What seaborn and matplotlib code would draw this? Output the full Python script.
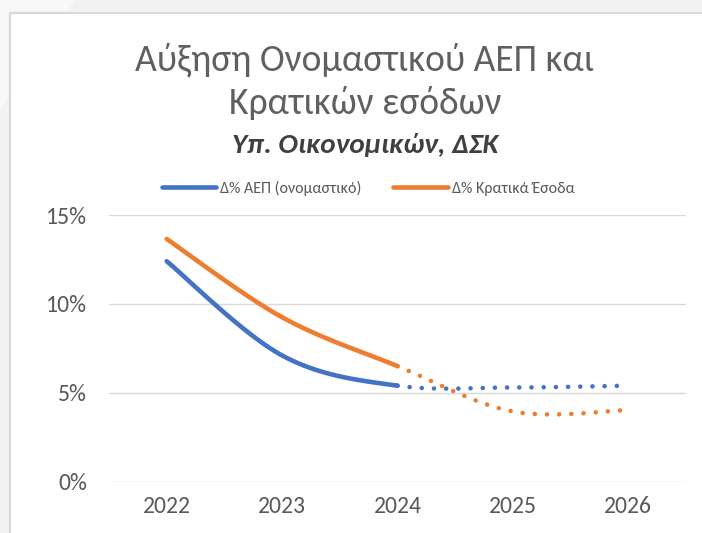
import numpy as np
import pandas as pd
import matplotlib
matplotlib.use("Agg")
import matplotlib.pyplot as plt
import seaborn as sns
from matplotlib.lines import Line2D
from matplotlib.patches import Rectangle, Polygon

# --- Data (% change) ---
years = ["2022", "2023", "2024", "2025", "2026"]
gdp_growth = [12.4, 7.1, 5.4, 5.3, 5.4]          # Δ% ΑΕΠ (ονομαστικό)
revenue_growth = [13.65, 9.25, 6.5, 3.95, 4.03]  # Δ% Κρατικά Έσοδα
last_actual = 2  # index of 2024: solid up to here, dotted afterwards

series_names = ["Δ% ΑΕΠ (ονομαστικό)", "Δ% Κρατικά Έσοδα"]
colors = ["#4472C4", "#ED7D31"]
y_ticks = [0, 5, 10, 15]

sns.set_theme(style="white")
plt.rcParams["font.family"] = ["Carlito", "DejaVu Sans"]

TEXT = "#595959"


def smooth_segment(xs, ys, i, n=40):
    # Excel-like smoothed line: cubic Bezier between point i and i+1
    P = np.column_stack([xs, ys]).astype(float)
    p0 = P[i]
    p1 = P[i + 1]
    prev = P[max(i - 1, 0)]
    nxt = P[min(i + 2, len(P) - 1)]
    c1 = p0 + (p1 - prev) / 6
    c2 = p1 - (nxt - p0) / 6
    t = np.linspace(0, 1, n)[:, None]
    pts = (1 - t) ** 3 * p0 + 3 * (1 - t) ** 2 * t * c1 + 3 * (1 - t) * t ** 2 * c2 + t ** 3 * p1
    return pts[:, 0], pts[:, 1]


def smooth_part(xs, ys, start, stop):
    px, py = [], []
    for i in range(start, stop):
        sx, sy = smooth_segment(xs, ys, i)
        if px:
            sx, sy = sx[1:], sy[1:]
        px.extend(sx)
        py.extend(sy)
    return pd.DataFrame({"x": px, "y": py})


fig = plt.figure(figsize=(7.02, 5.33), dpi=100, facecolor="#f2f2f2")

# background card like the source screenshot (runs off the right and bottom edges)
W, H = 702, 533
fig.patches.append(Polygon([(0, 1), (75 / W, 1), (0, 1 - 110 / H)], closed=True,
                           transform=fig.transFigure, facecolor="#f8f8f8", edgecolor="none", zorder=-3))
fig.patches.append(Rectangle((10 / W, -0.2), 1.3, 1 - 13 / H + 0.2, transform=fig.transFigure,
                             facecolor="white", edgecolor="#d9d9d9", linewidth=1.6, zorder=-2))

ax = fig.add_axes([109 / W, 1 - 481.7 / H, 577 / W, (481.7 - 215) / H])
ax.set_facecolor("none")

x_pos = np.arange(len(years))
for vals, color in zip([gdp_growth, revenue_growth], colors):
    solid = smooth_part(x_pos, vals, 0, last_actual)
    dotted = smooth_part(x_pos, vals, last_actual, len(years) - 1)
    sns.lineplot(data=solid, x="x", y="y", estimator=None, sort=False, color=color,
                 linewidth=3.3, solid_capstyle="round", ax=ax)
    sns.lineplot(data=dotted, x="x", y="y", estimator=None, sort=False, color=color,
                 linewidth=3.3, linestyle=(0, (0.01, 2.65)), dash_capstyle="round", ax=ax)

ax.set_xlim(-0.5, len(years) - 0.5)
ax.set_ylim(0, 15)
ax.set_xticks(x_pos)
ax.set_xticklabels(years)
ax.set_yticks(y_ticks)
ax.set_yticklabels([f"{v}%" for v in y_ticks])
ax.set_xlabel("")
ax.set_ylabel("")
ax.grid(axis="y", color="#d9d9d9", linewidth=1.0)
ax.set_axisbelow(True)
sns.despine(ax=ax, left=True, bottom=True)
ax.tick_params(axis="both", length=0, labelsize=17, labelcolor=TEXT)
ax.tick_params(axis="y", pad=16)
ax.tick_params(axis="x", pad=10)

# titles
fig.text(365 / W, 1 - 60 / H, "Αύξηση Ονομαστικού ΑΕΠ και", ha="center", va="center",
         fontsize=27, color="#606060")
fig.text(365 / W, 1 - 103 / H, "Κρατικών εσόδων", ha="center", va="center",
         fontsize=27, color="#606060")
fig.text(365 / W, 1 - 145 / H, "Υπ. Οικονομικών, ΔΣΚ", ha="center", va="center",
         fontsize=21, fontweight="bold", fontstyle="italic", color="#404040")

handles = [Line2D([], [], color=c, linewidth=3.3, solid_capstyle="round") for c in colors]
fig.legend(handles, series_names, loc="center", bbox_to_anchor=(368 / W, 1 - 188 / H), ncol=2,
           frameon=False, fontsize=11.5, labelcolor=TEXT, handlelength=3.4, handletextpad=0.25,
           columnspacing=2.0)

fig.savefig("out.png", dpi=100, facecolor=fig.get_facecolor())
